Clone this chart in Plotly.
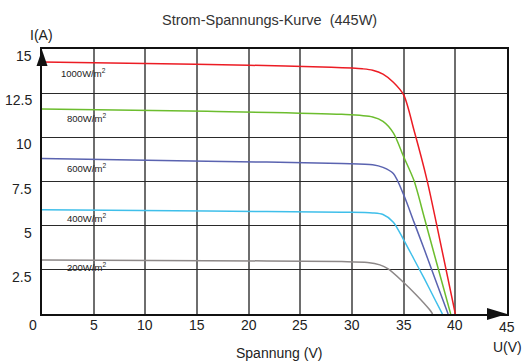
import plotly.graph_objects as go

# ---- data ----
v_1000 = [0, 10, 20, 28, 30, 31, 32, 33, 34, 35, 36, 37.26, 38.5, 40.0]
i_1000 = [14.26, 14.18, 14.08, 13.97, 13.92, 13.88, 13.8, 13.58, 13.12, 12.4, 10.4, 7.58, 4.2, 0]

v_800 = [0, 16, 29, 32, 33, 34, 35, 36, 37, 38, 39.55]
i_800 = [11.6, 11.47, 11.3, 11.15, 10.9, 10.25, 8.9, 7.55, 5.45, 3.3, 0]

v_600 = [0, 16, 29, 32, 33, 34, 35, 36, 37, 38, 39.3]
i_600 = [8.8, 8.65, 8.52, 8.45, 8.3, 7.95, 6.75, 5.2, 3.65, 2.05, 0]

v_400 = [0, 16, 29, 32, 33, 34, 35, 36, 37, 38, 38.75]
i_400 = [5.9, 5.83, 5.76, 5.72, 5.63, 5.2, 4.2, 3.1, 2.0, 0.85, 0]

v_200 = [0, 16, 29, 31.5, 32.7, 33.5, 34.9, 36.2, 37.5, 37.8]
i_200 = [3.06, 3.02, 2.97, 2.92, 2.78, 2.55, 1.84, 1.09, 0.25, 0]

series_names = ["1000W/m<sup>2</sup>", "800W/m<sup>2</sup>", "600W/m<sup>2</sup>",
                "400W/m<sup>2</sup>", "200W/m<sup>2</sup>"]
series_label_y = [13.67, 11.08, 8.26, 5.43, 2.67]
series_colors = ["#ec1c24", "#6cbd2e", "#5a63b0", "#3fbfea", "#8d8888"]

x_tick_vals = [0, 5, 10, 15, 20, 25, 30, 35, 40, 45]
x_tick_text = ["0", "5", "10", "15", "20", "25", "30", "35", "40", "45"]
y_tick_vals = [2.5, 5, 7.5, 10, 12.5, 15]
y_tick_text = ["2.5", "5", "7.5", "10", "12.5", "15"]

title_text = "Strom-Spannungs-Kurve  (445W)"
x_title = "Spannung (V)"
x_unit = "U(V)"
y_unit = "I(A)"

FONT = "Liberation Sans, Arial, sans-serif"

fig = go.Figure()
all_v = [v_1000, v_800, v_600, v_400, v_200]
all_i = [i_1000, i_800, i_600, i_400, i_200]
for v, i, c, n in zip(all_v, all_i, series_colors, series_names):
    fig.add_trace(go.Scatter(x=v, y=i, mode="lines", name=n,
                             line=dict(color=c, width=1.5, shape="spline", smoothing=0.8),
                             showlegend=False, hoverinfo="skip"))

annotations = []
# curve labels
for n, yv in zip(series_names, series_label_y):
    annotations.append(dict(x=6.4, y=yv, xref="x", yref="y", text=n, showarrow=False,
                            xanchor="right", yanchor="middle",
                            font=dict(family=FONT, size=9.5, color="#222")))
# y tick labels
for v, t in zip(y_tick_vals, y_tick_text):
    annotations.append(dict(x=0, y=v, xref="x", yref="y", text=t, showarrow=False,
                            xanchor="right", yanchor="middle", xshift=-8, yshift=-7,
                            font=dict(family=FONT, size=14, color="#222")))
# x tick labels
for v, t in zip(x_tick_vals, x_tick_text):
    xs = -9 if v == 0 else 0
    ys = -13 if v == 45 else -11
    annotations.append(dict(x=v, y=0, xref="x", yref="y", text=t, showarrow=False,
                            xanchor="center", yanchor="middle", xshift=xs, yshift=ys,
                            font=dict(family=FONT, size=14, color="#222")))
# titles
annotations.append(dict(x=45, y=0, xref="x", yref="y", text=x_unit, showarrow=False,
                        xanchor="center", yanchor="middle", yshift=-33,
                        font=dict(family=FONT, size=14, color="#222")))
annotations.append(dict(x=0, y=15, xref="x", yref="y", text=y_unit, showarrow=False,
                        xanchor="center", yanchor="middle", yshift=14, xshift=-1,
                        font=dict(family=FONT, size=14, color="#222")))
annotations.append(dict(x=0.51, y=0, xref="paper", yref="paper", text=x_title, showarrow=False,
                        xanchor="center", yanchor="middle", yshift=-39,
                        font=dict(family=FONT, size=14, color="#222")))
annotations.append(dict(x=0.49, y=1, xref="paper", yref="paper", text=title_text, showarrow=False,
                        xanchor="center", yanchor="middle", yshift=29,
                        font=dict(family=FONT, size=14.5, color="#333")))

shapes = [
    # y-axis arrow head (paper refs so it is not clipped by the plot area)
    dict(type="path", xref="paper", yref="paper", xsizemode="pixel", ysizemode="pixel",
         xanchor=0, yanchor=1, path="M -5.5,-17 L 5.5,-17 L 0,-1 Z",
         fillcolor="#111", line=dict(width=0), layer="above"),
    # x-axis arrow head
    dict(type="path", xref="paper", yref="paper", xsizemode="pixel", ysizemode="pixel",
         xanchor=1, yanchor=0, path="M -20,6 L -20,-6 L 0,0 Z",
         fillcolor="#111", line=dict(width=0), layer="above"),
]

fig.update_layout(
    width=525, height=361,
    margin=dict(l=42, r=18, t=49, b=47),
    paper_bgcolor="white", plot_bgcolor="white",
    annotations=annotations, shapes=shapes,
    xaxis=dict(range=[0, 45], tickvals=x_tick_vals, showticklabels=False, ticks="",
               showgrid=True, gridcolor="#6e6e6e", gridwidth=1.5, zeroline=False,
               showline=True, linecolor="#111", linewidth=1.8, mirror=True, fixedrange=True),
    yaxis=dict(range=[0, 15], tickvals=y_tick_vals, showticklabels=False, ticks="",
               showgrid=True, gridcolor="#2a2a2a", gridwidth=1.3, zeroline=False,
               showline=True, linecolor="#111", linewidth=1.8, mirror=True, fixedrange=True),
)

fig.write_html("out.html", config={"displayModeBar": False},
               post_script="document.body.style.margin='0';document.body.style.overflow='hidden';")
